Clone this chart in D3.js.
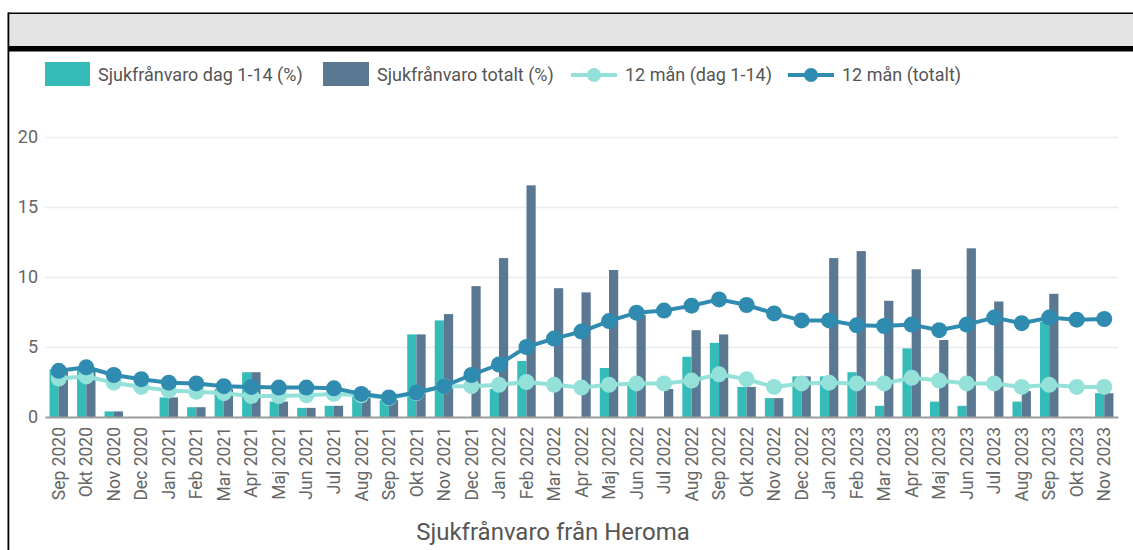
<!DOCTYPE html>
<html>
<head>
<meta charset="utf-8">
<script src="https://cdn.jsdelivr.net/npm/d3@7"></script>
<style>
body { margin: 0; background: #fff; }
svg { display: block; font-family: Roboto, "Noto Sans", sans-serif; }
</style>
</head>
<body>
<svg></svg>
<script>
var screen = {width: 1133, height: 550};
var plot = {left: 45, right: 1118, top: 137, bottom: 417};

var months = ["Sep 2020", "Okt 2020", "Nov 2020", "Dec 2020", "Jan 2021", "Feb 2021", "Mar 2021",
    "Apr 2021", "Maj 2021", "Jun 2021", "Jul 2021", "Aug 2021", "Sep 2021", "Okt 2021", "Nov 2021",
    "Dec 2021", "Jan 2022", "Feb 2022", "Mar 2022", "Apr 2022", "Maj 2022", "Jun 2022", "Jul 2022",
    "Aug 2022", "Sep 2022", "Okt 2022", "Nov 2022", "Dec 2022", "Jan 2023", "Feb 2023", "Mar 2023",
    "Apr 2023", "Maj 2023", "Jun 2023", "Jul 2023", "Aug 2023", "Sep 2023", "Okt 2023", "Nov 2023"];

// Sjukfrånvaro dag 1-14 (%)
var dag114 = [3.4, 3.4, 0.4, 0, 1.4, 0.7, 2.0, 3.2, 1.1, 0.65, 0.8, 1.9, 1.2, 5.9, 6.9,
    0, 2.0, 4.0, 0, 0, 3.5, 2.3, 0, 4.3, 5.3, 2.15, 1.35, 2.9, 2.9, 3.2, 0.8,
    4.9, 1.1, 0.8, 0, 1.1, 6.8, 0, 1.7];

// Sjukfrånvaro totalt (%)
var totalt = [3.4, 3.3, 0.4, 0, 1.4, 0.7, 2.0, 3.2, 1.1, 0.65, 0.8, 1.9, 1.2, 5.9, 7.35,
    9.35, 11.35, 16.55, 9.2, 8.9, 10.5, 7.3, 2.0, 6.2, 5.9, 2.15, 1.35, 2.9, 11.35, 11.85, 8.3,
    10.55, 5.5, 12.05, 8.25, 1.85, 8.8, 0, 1.7];

// 12 mån (dag 1-14)
var mån12dag = [2.75, 2.9, 2.45, 2.15, 1.9, 1.8, 1.7, 1.5, 1.5, 1.55, 1.65, 1.55, 1.35, 1.7, 2.2,
    2.2, 2.3, 2.5, 2.3, 2.1, 2.3, 2.4, 2.4, 2.6, 3.05, 2.7, 2.15, 2.4, 2.45, 2.4, 2.4,
    2.8, 2.6, 2.4, 2.4, 2.15, 2.3, 2.15, 2.15];

// 12 mån (totalt)
var mån12tot = [3.3, 3.55, 3.0, 2.7, 2.45, 2.4, 2.2, 2.15, 2.1, 2.1, 2.05, 1.65, 1.4, 1.75, 2.2,
    3.0, 3.75, 5.0, 5.6, 6.1, 6.85, 7.45, 7.6, 7.95, 8.4, 8.0, 7.4, 6.9, 6.9, 6.55, 6.5,
    6.6, 6.2, 6.6, 7.1, 6.7, 7.1, 6.95, 7.0];

var yTicks = [0, 5, 10, 15, 20];

var colors = {teal: "#36bcb8", slate: "#5b7893", dark: "#2f8cb0", light: "#94e1da"};

var svg = d3.select("svg")
    .attr("width", screen.width)
    .attr("height", screen.height);

var drawFrame = function()
{
    svg.append("rect").attr("x", 8).attr("y", 13).attr("width", screen.width).attr("height", 34)
        .attr("fill", "#e4e4e4");
    svg.append("rect").attr("x", 8).attr("y", 12.5).attr("width", screen.width).attr("height", 1.5)
        .attr("fill", "#000");
    svg.append("rect").attr("x", 8).attr("y", 46).attr("width", screen.width).attr("height", 5.5)
        .attr("fill", "#000");
    svg.append("rect").attr("x", 7.5).attr("y", 12.5).attr("width", 1.8).attr("height", screen.height)
        .attr("fill", "#000");
}

var drawLegend = function()
{
    var legend = svg.append("g").attr("id", "legend").style("font-size", "18px").attr("fill", "#555");

    legend.append("rect").attr("x", 45).attr("y", 62).attr("width", 45).attr("height", 24).attr("fill", colors.teal);
    legend.append("text").attr("x", 98).attr("y", 81).text("Sjukfrånvaro dag 1-14 (%)");

    legend.append("rect").attr("x", 323).attr("y", 62).attr("width", 46).attr("height", 24).attr("fill", colors.slate);
    legend.append("text").attr("x", 377).attr("y", 81).text("Sjukfrånvaro totalt (%)");

    var items = [{x: 571, c: colors.light, t: "12 mån (dag 1-14)"}, {x: 788, c: colors.dark, t: "12 mån (totalt)"}];
    items.forEach(function(d)
    {
        legend.append("line").attr("x1", d.x).attr("x2", d.x + 46).attr("y1", 75).attr("y2", 75)
            .attr("stroke", d.c).attr("stroke-width", 4);
        legend.append("circle").attr("cx", d.x + 23).attr("cy", 75).attr("r", 7).attr("fill", d.c);
        legend.append("text").attr("x", d.x + 54).attr("y", 81).text(d.t);
    });
}

var drawChart = function()
{
    var xScale = d3.scaleBand().domain(months).range([plot.left, plot.right]).padding(0);
    var step = xScale.step();
    var xSub = d3.scaleBand().domain(["dag", "tot"]).range([step * 0.165, step * 0.835]);
    var yScale = d3.scaleLinear().domain([0, 20]).range([plot.bottom, plot.top]);

    // gridlines + y labels
    var yAxis = d3.axisLeft(yScale).tickValues(yTicks).tickSize(-(plot.right - plot.left)).tickPadding(7);
    var gy = svg.append("g").attr("id", "yAxis")
        .attr("transform", "translate(" + plot.left + ",0)")
        .call(yAxis);
    gy.select(".domain").remove();
    gy.selectAll(".tick line").attr("stroke", "#e8ebef").attr("stroke-width", 1.5);
    gy.selectAll(".tick text").attr("fill", "#666").style("font-size", "18px")
        .style("font-family", "Roboto, sans-serif");

    // bars
    var groups = svg.append("g").attr("id", "bars")
        .selectAll("g")
        .data(months)
        .enter()
        .append("g")
        .attr("transform", function(d){ return "translate(" + xScale(d) + ",0)"; });

    groups.append("rect")
        .attr("x", xSub("dag"))
        .attr("width", xSub.bandwidth())
        .attr("y", function(d, i){ return yScale(dag114[i]); })
        .attr("height", function(d, i){ return yScale(0) - yScale(dag114[i]); })
        .attr("fill", colors.teal);

    groups.append("rect")
        .attr("x", xSub("tot"))
        .attr("width", xSub.bandwidth())
        .attr("y", function(d, i){ return yScale(totalt[i]); })
        .attr("height", function(d, i){ return yScale(0) - yScale(totalt[i]); })
        .attr("fill", colors.slate);

    // x axis
    var xAxis = d3.axisBottom(xScale).tickSize(0).tickPadding(8);
    var gx = svg.append("g").attr("id", "xAxis")
        .attr("transform", "translate(0," + plot.bottom + ")")
        .call(xAxis);
    gx.select(".domain").attr("stroke", "#9e9e9e").attr("stroke-width", 2);
    gx.selectAll(".tick text")
        .attr("fill", "#666")
        .style("font-size", "17.5px")
        .style("font-family", "Roboto, sans-serif")
        .attr("text-anchor", "end")
        .attr("dy", "0.35em")
        .attr("transform", "rotate(-90)")
        .attr("x", -10)
        .attr("y", 0);

    // lines
    var drawLine = function(values, color)
    {
        var pts = values.map(function(v, i){ return [xScale(months[i]) + step / 2, yScale(v)]; });
        var g = svg.append("g");
        g.append("path")
            .attr("d", d3.line()(pts))
            .attr("fill", "none")
            .attr("stroke", color)
            .attr("stroke-width", 4)
            .attr("stroke-linejoin", "round");
        g.selectAll("circle")
            .data(pts)
            .enter()
            .append("circle")
            .attr("cx", function(d){ return d[0]; })
            .attr("cy", function(d){ return d[1]; })
            .attr("r", 8)
            .attr("fill", color);
    }
    drawLine(mån12dag, colors.light);
    drawLine(mån12tot, colors.dark);

    svg.append("text")
        .attr("x", 553)
        .attr("y", 540)
        .attr("text-anchor", "middle")
        .attr("fill", "#555")
        .style("font-size", "24px")
        .text("Sjukfrånvaro från Heroma");
}

drawFrame();
drawLegend();
drawChart();
</script>
</body>
</html>
